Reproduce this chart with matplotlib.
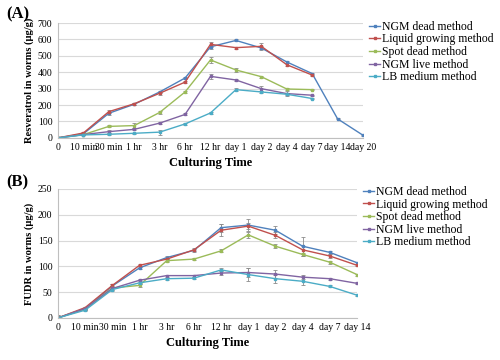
import matplotlib.pyplot as plt

plt.rcParams['font.family'] = ['Liberation Serif', 'DejaVu Serif']

methods = ["NGM dead method", "Liquid growing method", "Spot dead method",
           "NGM live method", "LB medium method"]
colors = ["#4F81BD", "#C0504D", "#9BBB59", "#8064A2", "#4BACC6"]

# panel A: resveratrol
times_a = ["0", "10 min", "30 min", "1 hr", "3 hr", "6 hr", "12 hr",
           "day 1", "day 2", "day 4", "day 7", "day 14", "day 20"]
res_ngm_dead = [0, 25, 150, 205, 280, 365, 555, 594, 548, 463, 392, 116, 16]
res_liquid = [0, 30, 160, 208, 272, 340, 570, 550, 558, 446, 383]
res_spot = [0, 20, 70, 75, 155, 280, 475, 414, 373, 298, 294]
res_ngm_live = [0, 20, 38, 52, 90, 143, 375, 353, 300, 270, 260]
res_lb = [0, 18, 22, 28, 35, 85, 152, 294, 280, 266, 240]
res_err = [
    [5, 3, 8, 5, 8, 8, 12, 6, 10, 8, 6, 3, 2],
    [5, 3, 8, 5, 8, 8, 15, 6, 18, 8, 8],
    [3, 3, 6, 15, 10, 6, 18, 10, 6, 6, 4],
    [3, 3, 10, 6, 8, 6, 15, 8, 15, 15, 4],
    [3, 3, 5, 4, 15, 6, 6, 8, 6, 6, 4],
]

# panel B: FUDR
times_b = ["0", "10 min", "30 min", "1 hr", "3 hr", "6 hr", "12 hr",
           "day 1", "day 2", "day 4", "day 7", "day 14"]
fudr_ngm_dead = [0, 18, 62, 97, 117, 131, 175, 180, 170, 139, 127, 107]
fudr_liquid = [0, 20, 63, 102, 114, 132, 170, 178, 160, 132, 120, 102]
fudr_spot = [0, 17, 58, 63, 111, 114, 130, 161, 139, 123, 108, 84]
fudr_ngm_live = [0, 18, 57, 73, 82, 82, 87, 88, 85, 79, 76, 67]
fudr_lb = [0, 15, 55, 68, 76, 77, 93, 84, 76, 71, 61, 44]
fudr_err = [
    [6, 2, 3, 3, 3, 3, 8, 12, 8, 18, 3, 2],
    [6, 2, 3, 3, 3, 3, 12, 6, 6, 8, 3, 2],
    [4, 2, 3, 3, 3, 2, 3, 6, 4, 3, 3, 2],
    [4, 2, 3, 3, 2, 2, 4, 8, 8, 4, 2, 2],
    [4, 2, 3, 3, 2, 2, 3, 12, 8, 8, 2, 2],
]

res_series = [res_ngm_dead, res_liquid, res_spot, res_ngm_live, res_lb]
fudr_series = [fudr_ngm_dead, fudr_liquid, fudr_spot, fudr_ngm_live, fudr_lb]

fig = plt.figure(figsize=(5, 3.6), dpi=100)
ax_a = fig.add_axes([0.116, 0.617, 0.61, 0.319])
ax_b = fig.add_axes([0.116, 0.117, 0.598, 0.358])


def draw(ax, times, series, errs, ymax, ystep, ylabel):
    for name, vals, err, c in zip(methods, series, errs, colors):
        x = list(range(len(vals)))
        ax.errorbar(x, vals, yerr=err[:len(vals)], color=c, lw=1.0,
                    marker='s', ms=1.8, ecolor='#8c8c8c', elinewidth=0.6,
                    capsize=1.2, capthick=0.6, label=name)
    ax.set_xlim(0, len(times) - 1)
    ax.set_ylim(0, ymax)
    ax.set_xticks(range(len(times)))
    ax.set_xticklabels(times)
    ax.set_yticks(range(0, ymax + 1, ystep))
    ax.tick_params(labelsize=7, length=0, pad=4)
    ax.grid(axis='y', color='#d9d9d9', lw=0.8)
    ax.set_axisbelow(True)
    for s in ['top', 'right']:
        ax.spines[s].set_visible(False)
    for s in ['left', 'bottom']:
        ax.spines[s].set_color('#bfbfbf')
        ax.spines[s].set_linewidth(0.8)
    ax.set_xlabel("Culturing Time", fontsize=9, fontweight='bold', labelpad=3)
    ax.set_ylabel(ylabel, fontsize=7.6, fontweight='bold', labelpad=3)
    handles, labels = ax.get_legend_handles_labels()
    handles = [h[0] for h in handles]
    ax.legend(handles, labels, loc='upper left', bbox_to_anchor=(1.005, 1.06),
              frameon=False, fontsize=8.5, handlelength=0.9, handletextpad=0.2,
              labelspacing=0.05, borderaxespad=0)


draw(ax_a, times_a, res_series, res_err, 700, 100, "Resveratrol in worms (µg/g)")
draw(ax_b, times_b, fudr_series, fudr_err, 250, 50, "FUDR in worms (µg/g)")

fig.text(0.012, 0.95, "(A)", fontsize=12, fontweight='bold')
fig.text(0.012, 0.482, "(B)", fontsize=12, fontweight='bold')

fig.savefig("out.png", dpi=100)
